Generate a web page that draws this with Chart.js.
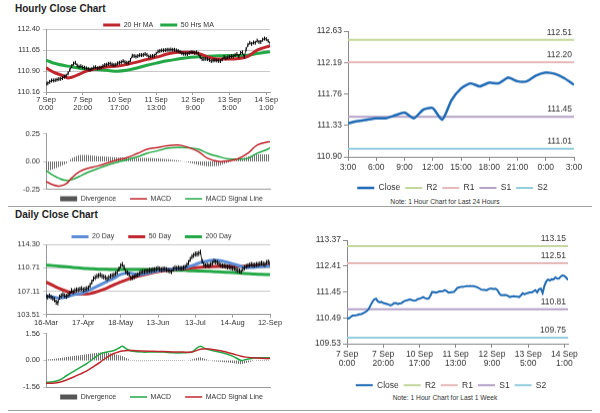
<!DOCTYPE html>
<html>
<head>
<meta charset="utf-8">
<script src="https://cdn.jsdelivr.net/npm/chart.js@4.4.0/dist/chart.umd.min.js"></script>
<style>
  html, body { margin: 0; padding: 0; background: #fff; }
  #page { position: relative; width: 600px; height: 413px; overflow: hidden;
          font-family: 'Liberation Sans', Arial, sans-serif; color: #222; }
  .box { position: absolute; }
  .title { position: absolute; left: 15px; font-weight: bold; font-size: 10px; }
  .note { position: absolute; left: 300px; width: 290px; text-align: center; font-size: 6.7px; color: #333; }
  .rule { position: absolute; left: 8px; width: 584px; height: 1px; background: #a0a0a0; }
</style>
</head>
<body>
<div id="page">
  <div class="title" style="top:3px">Hourly Close Chart</div>
  <div class="note" style="top:198px">Note: 1 Hour Chart for Last 24 Hours</div>
  <div class="rule" style="top:206px"></div>
  <div class="title" style="top:209px">Daily Close Chart</div>
  <div class="note" style="top:394px">Note: 1 Hour Chart for Last 1 Week</div>
  <div class="rule" style="top:410px"></div>

  <div class="box" style="left:0;top:5px;width:285px;height:107px"><canvas id="hrPrice"></canvas></div>
  <div class="box" style="left:0;top:126px;width:285px;height:93.7px"><canvas id="hrMacd"></canvas></div>
  <div class="box" style="left:295px;top:22px;width:300px;height:177.5px"><canvas id="hr24"></canvas></div>
  <div class="box" style="left:0;top:213.3px;width:285px;height:114.7px"><canvas id="dlPrice"></canvas></div>
  <div class="box" style="left:0;top:326px;width:285px;height:92.3px"><canvas id="dlMacd"></canvas></div>
  <div class="box" style="left:295px;top:232px;width:300px;height:163.5px"><canvas id="wkPrice"></canvas></div>
</div>

<script>
// ===== Data =====

// hourly closes, 7 Sep 0:00 .. 14 Sep 3:00 (trading hours)
const hourTicks = [['7 Sep', '0:00'], ['7 Sep', '20:00'], ['10 Sep', '17:00'], ['11 Sep', '13:00'],
                   ['12 Sep', '9:00'], ['13 Sep', '5:00'], ['14 Sep', '1:00']];
const hourTickIdx = [0, 20, 40, 60, 80, 100, 120];
const hourlyClose = [
  110.45, 110.47, 110.52, 110.57, 110.57, 110.58, 110.60, 110.62, 110.63, 110.66,
  110.70, 110.74, 110.82, 110.95, 111.08, 111.17, 111.20, 111.10, 111.06, 111.08,
  111.04, 111.02, 111.00, 110.98, 110.95, 110.98, 111.03, 111.04, 111.00, 111.02,
  111.03, 111.08, 111.12, 111.13, 111.16, 111.17, 111.14, 111.12, 111.13, 111.18,
  111.20, 111.22, 111.26, 111.22, 111.20, 111.20, 111.30, 111.45, 111.44, 111.42,
  111.44, 111.47, 111.47, 111.48, 111.51, 111.48, 111.42, 111.43, 111.44, 111.45,
  111.52, 111.60, 111.62, 111.64, 111.64, 111.65, 111.66, 111.66, 111.67, 111.66,
  111.66, 111.64, 111.62, 111.58, 111.54, 111.52, 111.52, 111.51, 111.55, 111.57,
  111.57, 111.55, 111.57, 111.52, 111.40, 111.33, 111.33, 111.34, 111.33, 111.30,
  111.26, 111.28, 111.29, 111.28, 111.27, 111.26, 111.32, 111.40,
  111.36, 111.39, 111.41, 111.43, 111.43, 111.47, 111.51, 111.43, 111.55, 111.57,
  111.41, 111.68, 111.84, 111.91, 111.87, 111.92, 111.91, 111.99, 111.94, 111.94,
  112.02, 112.06, 112.04, 111.98, 111.89
];
const hourMaIdx = [0, 4, 10, 12, 17, 22, 28, 33, 39, 44, 50, 55, 61, 66, 72, 77, 83, 88, 94, 99, 105, 110, 115, 122];
const ma20Hr = [111.02, 110.87, 110.72, 110.66, 110.76, 110.90, 111.00, 111.05, 111.08, 111.14, 111.23, 111.32,
                111.41, 111.51, 111.57, 111.57, 111.53, 111.41, 111.33, 111.33, 111.35, 111.43, 111.65, 111.80];
const ma50Hr = [111.29, 111.19, 111.10, 111.08, 111.02, 110.97, 110.96, 110.93, 110.90, 110.93, 111.02, 111.11,
                111.20, 111.27, 111.33, 111.38, 111.41, 111.43, 111.45, 111.46, 111.46, 111.47, 111.53, 111.59];
const hourPriceTicks = [110.16, 110.90, 111.65, 112.40];

const hourMacdIdx = [0, 4, 7, 11, 14, 18, 22, 28, 33, 39, 44, 50, 55, 61, 66, 72, 77, 83, 88, 94, 99, 104, 110, 115, 121, 122];
const hourMacd = [-0.18, -0.21, -0.22, -0.20, -0.147, -0.094, -0.065, -0.041, -0.015, 0.015, 0.035, 0.074, 0.109,
                  0.126, 0.141, 0.147, 0.129, 0.088, 0.029, 0.0, 0.006, 0.021, 0.074, 0.147, 0.176, 0.176];
const hourSignal = [-0.082, -0.125, -0.15, -0.17, -0.163, -0.135, -0.103, -0.065, -0.035, -0.006, 0.015, 0.044, 0.074,
                    0.097, 0.118, 0.126, 0.124, 0.109, 0.074, 0.044, 0.024, 0.021, 0.029, 0.074, 0.112, 0.124];
const hourDiverg = [-0.09, -0.07, -0.05, -0.02, 0.03, 0.058, 0.06, 0.048, 0.044, 0.038, 0.035, 0.033, 0.032,
                    0.028, 0.022, 0.01, -0.005, -0.03, -0.045, -0.04, -0.01, 0.015, 0.045, 0.065, 0.065, 0.055];
const hourMacdTicks = [-0.25, 0, 0.25];

// last 24 hours chart
const last24Ticks = ['3:00', '6:00', '9:00', '12:00', '15:00', '18:00', '21:00', '0:00', '3:00'];
const last24TickIdx = [0, 3, 6, 9, 12, 15, 18, 21, 24];
const last24YTicks = [110.90, 111.33, 111.76, 112.19, 112.63];
const levelNames = ['R2', 'R1', 'S1', 'S2'];
const last24Levels = [112.51, 112.20, 111.45, 111.01];
const weekLevels = [113.15, 112.51, 110.81, 109.75];
const weekYTicks = [109.53, 110.49, 111.45, 112.41, 113.37];

// daily closes, 16 Mar .. 12 Sep
const dayTicks = ['16-Mar', '17-Apr', '18-May', '13-Jun', '13-Jul', '14-Aug', '12-Sep'];
const dayTickIdx = [0, 22, 44, 66, 88, 110, 132];
const dailyClose = [
  106.3, 106.2, 106.4, 106.2, 106.0, 105.8, 105.4, 105.3, 106.2, 106.4,
  106.6, 106.4, 106.3, 106.5, 106.7, 107.2, 107.0, 107.2, 107.3, 107.3,
  107.4, 107.5, 107.3, 107.4, 107.5, 107.6, 108.0, 108.5, 109.0, 109.2,
  109.4, 109.5, 109.6, 109.4, 109.3, 109.2, 109.0, 109.2, 109.4, 109.5,
  109.6, 109.8, 110.0, 110.5, 111.0, 111.2, 110.8, 110.1, 109.9, 109.7,
  109.1, 109.2, 109.3, 109.5, 109.6, 109.8, 110.0, 110.1, 110.1, 110.2,
  110.2, 110.3, 110.3, 110.4, 110.4, 110.5, 110.6, 110.5, 110.4, 110.5,
  110.5, 110.4, 110.3, 110.2, 110.1, 110.5, 110.7, 110.6, 110.7, 110.6,
  110.6, 110.7, 110.8, 111.1, 111.5, 112.0, 112.4, 112.6, 112.8, 112.8,
  112.9, 113.1, 111.7, 111.2, 111.0, 111.1, 111.0, 111.2, 111.4, 111.7,
  111.6, 111.5, 111.3, 111.1, 111.0, 111.0, 110.9, 110.8, 110.8, 110.7,
  110.6, 110.6, 110.4, 110.3, 110.2, 110.1, 110.5, 110.7, 110.9, 111.0,
  111.1, 111.2, 111.1, 111.1, 111.2, 111.2, 111.3, 111.4, 111.3, 111.2,
  111.5, 111.6, 111.4
];
const dayMaIdx = [0, 4, 8, 12, 16, 20, 24, 28, 32, 36, 40, 44, 48, 51, 55, 59, 63, 67, 71, 75, 79, 83, 87, 91, 95, 98, 102, 106, 110, 114, 118, 122, 126, 132];
const ma20Day = [106.35, 106.2, 106.04, 106.2, 106.56, 106.7, 107.1, 107.6, 108.1, 108.6, 109.1, 109.66, 109.9, 109.8, 109.66, 109.8, 110.07,
                 110.27, 110.43, 110.48, 110.58, 110.79, 111.1, 111.5, 111.72, 111.87, 111.82, 111.6, 111.3, 111.0, 110.74, 110.74, 110.84, 110.95];
const ma50Day = [108.5, 108.0, 107.5, 107.1, 106.8, 106.66, 106.66, 106.87, 107.2, 107.6, 108.1, 108.5, 108.9, 109.2, 109.45, 109.7, 109.97,
                 110.17, 110.33, 110.43, 110.53, 110.58, 110.69, 110.79, 110.84, 110.9, 110.95, 110.95, 110.95, 110.95, 110.95, 111.0, 111.0, 111.1];
const ma200Day = [111.1, 111.03, 110.95, 110.85, 110.74, 110.66, 110.58, 110.53, 110.48, 110.45, 110.43, 110.43, 110.43, 110.43, 110.43, 110.4, 110.38,
                  110.36, 110.33, 110.33, 110.33, 110.28, 110.22, 110.2, 110.17, 110.12, 110.07, 110.02, 109.97, 109.9, 109.8, 109.75, 109.7, 109.66];
const dayPriceTicks = [103.51, 107.11, 110.71, 114.30];

const dayMacdIdx = [0, 4, 8, 12, 16, 20, 24, 28, 32, 36, 40, 43, 45, 48, 51, 57, 63, 69, 75, 81, 86, 89, 91, 94, 98, 104, 110, 115, 118, 124, 130, 132];
const dayMacd = [-1.27, -1.24, -1.14, -0.89, -0.65, -0.42, -0.19, 0.11, 0.38, 0.49, 0.57, 0.72, 0.82, 0.63, 0.53, 0.48,
                 0.49, 0.49, 0.44, 0.44, 0.49, 0.72, 0.82, 0.68, 0.57, 0.44, 0.25, 0.0, 0.06, 0.15, 0.15, 0.15];
const daySignal = [-1.33, -1.32, -1.27, -1.14, -0.98, -0.8, -0.61, -0.36, -0.1, 0.19, 0.4, 0.5, 0.55, 0.58, 0.57, 0.54,
                   0.53, 0.51, 0.49, 0.48, 0.49, 0.58, 0.65, 0.68, 0.63, 0.53, 0.38, 0.24, 0.19, 0.14, 0.11, 0.11];
const dayDiverg = [0.05, 0.08, 0.12, 0.2, 0.25, 0.3, 0.36, 0.42, 0.46, 0.44, 0.37, 0.3, 0.25, 0.1, -0.03, -0.05,
                   -0.04, -0.03, -0.04, -0.03, 0.05, 0.15, 0.18, 0.08, -0.05, -0.1, -0.15, -0.22, -0.15, 0.02, 0.04, 0.04];
const dayMacdTicks = [-1.56, 0, 1.56];

// ===== Helpers =====
const LF = "'Liberation Sans', Arial, sans-serif";
const RED = '#c0272d', GREEN = '#22a845', BLUE = '#5b8ed6', CLOSE = '#1f6bb5';
const levelColors = ['#c3d69b', '#e6b9b8', '#b3a2c7', '#93cddd'];

Chart.defaults.font.family = LF;
Chart.defaults.color = '#333';
Chart.defaults.animation = false;

// nudge a legend after layout (the legend padding also sets the gap between items)
Chart.register({
  id: 'legendShift',
  afterLayout(chart, args, opts) {
    const lg = chart.legend;
    if (!lg) return;
    const dx = opts.dx || 0, dy = opts.dy || 0;
    lg.left += dx; lg.right += dx;
    lg.top += dy; lg.bottom += dy;
  }
});

const pairs = (idx, vals) => idx.map((x, i) => ({ x: x, y: vals[i] }));
const series = vals => vals.map((y, x) => ({ x: x, y: y }));

function hatch(canvasId, color) {
  const c = document.createElement('canvas');
  c.width = 2; c.height = 2;
  const g = c.getContext('2d');
  g.fillStyle = color;
  g.fillRect(0, 0, 1, 2);
  return document.getElementById(canvasId).getContext('2d').createPattern(c, 'repeat');
}

function fixedTicks(list) {
  return s => { s.ticks = list.map(v => ({ value: v })); };
}

// y axis used by the left hand panels
function leftY(ticks, grid) {
  return {
    min: ticks[0], max: ticks[ticks.length - 1],
    afterBuildTicks: fixedTicks(ticks),
    afterFit: s => { s.width = 46; },
    ticks: { font: { size: 7.5 }, padding: 3, callback: v => v.toFixed(2), color: '#333' },
    grid: { color: '#c8c8c8', drawOnChartArea: grid, tickLength: 3 },
    border: { color: '#999' }
  };
}

function leftLegend(pos, pad, full, extra) {
  return {
    position: pos, fullSize: full,
    labels: Object.assign({
      usePointStyle: true, pointStyleWidth: 17, boxHeight: 7,
      font: { size: 7 }, padding: pad, color: '#333',
      filter: item => item.text !== '',
      sort: (a, b) => a.datasetIndex - b.datasetIndex
    }, extra || {})
  };
}

// the black hourly / daily bars
function bars(vals, r) {
  return {
    label: '', data: series(vals), borderColor: '#000', borderWidth: 0.8,
    pointStyle: 'line', rotation: 90, pointRadius: r, pointBorderWidth: 1,
    pointBorderColor: '#000', pointHoverRadius: r, tension: 0, order: 0
  };
}

function maLine(label, idx, vals, color) {
  return {
    label: label, data: pairs(idx, vals), borderColor: color, borderWidth: 3,
    pointRadius: 0, pointStyle: 'line', tension: 0.4, cubicInterpolationMode: 'monotone', order: 1
  };
}

const divLegend = chart => {
  const items = Chart.defaults.plugins.legend.labels.generateLabels(chart);
  items.forEach(it => {
    if (it.text === 'Divergence') { it.pointStyle = 'line'; it.lineWidth = 5; it.strokeStyle = '#555'; }
  });
  return items;
};

// value labels above the support / resistance lines
const levelLabels = {
  id: 'levelLabels',
  afterDatasetsDraw(chart) {
    const { ctx, chartArea, scales } = chart;
    ctx.save();
    ctx.font = '8.5px ' + LF;
    ctx.fillStyle = '#333';
    ctx.textAlign = 'right';
    ctx.textBaseline = 'bottom';
    chart.data.datasets.forEach(ds => {
      if (ds.level === undefined) return;
      ctx.fillText(ds.level.toFixed(2), chartArea.right - 2, scales.y.getPixelForValue(ds.level) - 3);
    });
    ctx.restore();
  }
};

// ===== Hourly close (left) =====
new Chart(document.getElementById('hrPrice'), {
  type: 'line',
  data: { datasets: [
    maLine('20 Hr MA', hourMaIdx, ma20Hr, RED),
    maLine('50 Hrs MA', hourMaIdx, ma50Hr, GREEN),
    bars(hourlyClose, 2)
  ] },
  options: {
    responsive: true, maintainAspectRatio: false,
    layout: { padding: { left: 0, right: 15, top: 0, bottom: 0 } },
    plugins: { legend: leftLegend('top', 7, false), legendShift: { dx: 0.5, dy: 9.5 }, tooltip: { enabled: false } },
    scales: {
      x: {
        type: 'linear', min: 0, max: 122,
        afterBuildTicks: fixedTicks(hourTickIdx),
        afterFit: s => { s.height = 20; },
        ticks: { font: { size: 7.5, lineHeight: 1.1 }, maxRotation: 0, autoSkip: false, padding: 1,
                 callback: (v, i) => hourTicks[i] },
        grid: { drawOnChartArea: false, tickLength: 3, color: '#999' },
        border: { color: '#999' }
      },
      y: leftY(hourPriceTicks, true)
    }
  }
});

new Chart(document.getElementById('hrMacd'), {
  type: 'line',
  data: { datasets: [
    { label: 'Divergence', data: pairs(hourMacdIdx, hourDiverg), fill: 'origin', borderWidth: 0,
      backgroundColor: hatch('hrMacd', '#707070'), pointRadius: 0, tension: 0, order: 3 },
    { label: 'MACD', data: pairs(hourMacdIdx, hourMacd), borderColor: RED, borderWidth: 1.5,
      pointRadius: 0, pointStyle: 'line', tension: 0.4, order: 1 },
    { label: 'MACD Signal Line', data: pairs(hourMacdIdx, hourSignal), borderColor: GREEN, borderWidth: 1.5,
      pointRadius: 0, pointStyle: 'line', tension: 0.4, order: 2 }
  ] },
  options: {
    responsive: true, maintainAspectRatio: false,
    layout: { padding: { left: 0, right: 15, top: 6, bottom: 0 } },
    plugins: { legend: leftLegend('bottom', 14, true, { generateLabels: divLegend }),
               legendShift: { dx: 26.5, dy: -8.2 }, tooltip: { enabled: false } },
    scales: {
      x: { type: 'linear', min: 0, max: 122, afterFit: s => { s.height = 0; },
           ticks: { display: false }, grid: { display: false }, border: { color: '#999' } },
      y: leftY(hourMacdTicks, false)
    }
  }
});

// ===== Close with support / resistance (right) =====
function levelChart(id, closeVals, closeWidth, closeTension, levels, yTicks, xTickIdx, xLabels, layoutOpts) {
  const lastX = closeVals.length - 1;
  const datasets = [{ label: 'Close', data: series(closeVals), borderColor: CLOSE, borderWidth: closeWidth,
                      pointRadius: 0, pointStyle: 'line', tension: closeTension }];
  levels.forEach((v, k) => {
    datasets.push({ label: levelNames[k], data: [{ x: 0, y: v }, { x: lastX, y: v }], borderColor: levelColors[k],
                    borderWidth: 2, pointRadius: 0, pointStyle: 'line', level: v });
  });
  return new Chart(document.getElementById(id), {
    type: 'line',
    data: { datasets: datasets },
    plugins: [levelLabels],
    options: {
      responsive: true, maintainAspectRatio: false,
      layout: { padding: { left: 0, right: layoutOpts.padRight, top: layoutOpts.padTop, bottom: 0 } },
      plugins: {
        legend: { position: 'bottom', labels: { usePointStyle: true, pointStyleWidth: 17, boxHeight: 8.5,
                  font: { size: 8.5 }, padding: 5, color: '#333' } },
        legendShift: { dx: layoutOpts.dx, dy: layoutOpts.dy },
        tooltip: { enabled: false }
      },
      scales: {
        x: {
          type: 'linear', min: 0, max: lastX,
          afterBuildTicks: fixedTicks(xTickIdx),
          afterFit: s => { s.height = layoutOpts.xHeight; },
          ticks: { font: { size: 8.5, lineHeight: 1.1 }, maxRotation: 0, autoSkip: false, padding: 2,
                   callback: (v, i) => xLabels[i] },
          grid: { drawOnChartArea: false, tickLength: 4, color: '#888' },
          border: { color: '#888' }
        },
        y: {
          min: yTicks[0], max: yTicks[yTicks.length - 1],
          afterBuildTicks: fixedTicks(yTicks),
          afterFit: s => { s.width = layoutOpts.yWidth; },
          ticks: { font: { size: 8.5 }, padding: 2, callback: v => v.toFixed(2) },
          grid: { drawOnChartArea: false, tickLength: 4, color: '#888' },
          border: { color: '#888' }
        }
      }
    }
  });
}

levelChart('hr24', hourlyClose.slice(-25), 2.5, 0.2, last24Levels, last24YTicks, last24TickIdx, last24Ticks,
           { xHeight: 20, padTop: 9, padRight: 21, yWidth: 53, dx: 18, dy: 1.75 });

// ===== Daily close (left) =====
new Chart(document.getElementById('dlPrice'), {
  type: 'line',
  data: { datasets: [
    maLine('20 Day', dayMaIdx, ma20Day, BLUE),
    maLine('50 Day', dayMaIdx, ma50Day, RED),
    maLine('200 Day', dayMaIdx, ma200Day, GREEN),
    bars(dailyClose, 2.5)
  ] },
  options: {
    responsive: true, maintainAspectRatio: false,
    layout: { padding: { left: 0, right: 15, top: 0, bottom: 0 } },
    plugins: { legend: leftLegend('top', 14, false), legendShift: { dx: -6.5, dy: 6 }, tooltip: { enabled: false } },
    scales: {
      x: {
        type: 'linear', min: 0, max: 132,
        afterBuildTicks: fixedTicks(dayTickIdx),
        afterFit: s => { s.height = 14; },
        ticks: { font: { size: 7.5 }, maxRotation: 0, autoSkip: false, padding: 1,
                 callback: (v, i) => dayTicks[i] },
        grid: { drawOnChartArea: false, tickLength: 3, color: '#999' },
        border: { color: '#999' }
      },
      y: leftY(dayPriceTicks, true)
    }
  }
});

new Chart(document.getElementById('dlMacd'), {
  type: 'line',
  data: { datasets: [
    { label: 'Divergence', data: pairs(dayMacdIdx, dayDiverg), fill: 'origin', borderWidth: 0,
      backgroundColor: hatch('dlMacd', '#707070'), pointRadius: 0, tension: 0, order: 3 },
    { label: 'MACD', data: pairs(dayMacdIdx, dayMacd), borderColor: GREEN, borderWidth: 1.5,
      pointRadius: 0, pointStyle: 'line', tension: 0.3, order: 2 },
    { label: 'MACD Signal Line', data: pairs(dayMacdIdx, daySignal), borderColor: RED, borderWidth: 1.5,
      pointRadius: 0, pointStyle: 'line', tension: 0.3, order: 1 }
  ] },
  options: {
    responsive: true, maintainAspectRatio: false,
    layout: { padding: { left: 0, right: 15, top: 6, bottom: 0 } },
    plugins: { legend: leftLegend('bottom', 14, true, { generateLabels: divLegend }),
               legendShift: { dx: 26.5, dy: -7.8 }, tooltip: { enabled: false } },
    scales: {
      x: { type: 'linear', min: 0, max: 132, afterFit: s => { s.height = 0; },
           ticks: { display: false }, grid: { display: false }, border: { color: '#999' } },
      y: leftY(dayMacdTicks, false)
    }
  }
});

// ===== Last week hourly (right) =====
levelChart('wkPrice', hourlyClose, 2, 0, weekLevels, weekYTicks, hourTickIdx, hourTicks,
           { xHeight: 29, padTop: 8, padRight: 27, yWidth: 52, dx: 19.5, dy: 3 });
</script>
</body>
</html>
